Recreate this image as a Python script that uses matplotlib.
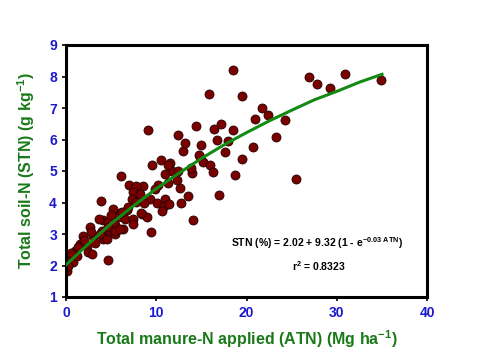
import matplotlib
matplotlib.use("Agg")
import matplotlib.pyplot as plt

plt.rcParams['font.family'] = ['Liberation Sans', 'DejaVu Sans']
plt.rcParams['font.weight'] = 'bold'
plt.rcParams['mathtext.fontset'] = 'custom'
plt.rcParams['mathtext.rm'] = 'Liberation Sans:bold'
plt.rcParams['mathtext.bf'] = 'Liberation Sans:bold'
plt.rcParams['mathtext.default'] = 'bf'

# Total manure-N applied (Mg/ha) and total soil N (g/kg)
atn = [34.9, 30.9, 29.2, 27.8, 26.9, 24.3, 25.5,
       18.5, 15.8, 19.5, 21.7, 22.4, 20.9, 23.3,
       16.4, 17.2, 18.5, 16.7, 17.9, 15.0, 20.7,
       19.5, 14.8, 15.2, 15.9, 16.3, 18.7,
       9.05, 12.4, 14.4, 13.0, 14.7, 10.5, 9.5,
       11.5, 11.7, 11.0, 14.0, 12.4, 12.3, 12.6,
       13.5, 10.2, 9.9, 11.3, 8.5, 8.2, 9.3,
       8.6, 10.1, 11.0, 10.8, 11.4, 12.7, 10.6,
       8.4, 9.0, 16.9, 14.1, 9.4,
       6.05, 7.0, 7.8, 11.3, 7.45, 8.2, 7.3,
       7.75, 3.9, 6.8, 6.0, 8.3, 5.76, 6.5,
       7.45, 7.45, 4.1, 4.7, 5.4, 6.3, 3.95,
       4.87, 5.4, 4.1, 6.9, 6.2, 3.6, 2.66,
       4.7, 5.4, 6.0, 1.9, 3.0, 3.76, 4.5,
       1.55, 2.3, 2.47, 2.85, 1.0, 1.36, 0.63,
       0.08, 0.0, 0.08, 0.8, 4.7, 0.2,
       1.2, 2.0, 3.2, 2.8, 0.5, 5.2, 5.0, 13.2, 17.6, 13.8]
stn = [7.88, 8.07, 7.63, 7.77, 8.0, 6.63, 4.75,
       8.21, 7.46, 7.38, 7.01, 6.77, 6.66, 6.09,
       6.34, 6.50, 6.29, 6.0, 5.96, 5.82, 5.77,
       5.39, 5.46, 5.29, 5.20, 4.97, 4.88,
       6.30, 6.13, 6.42, 5.64, 5.5, 5.36, 5.18,
       5.25, 5.01, 4.9, 4.93, 5.01, 4.71, 4.45,
       4.21, 4.55, 4.42, 4.61, 4.53, 4.13, 4.10,
       3.97, 4.0, 4.1, 3.88, 3.94, 4.0, 3.72,
       3.65, 3.55, 4.25, 3.46, 3.06,
       4.85, 4.57, 4.53, 5.19, 4.34, 4.28, 4.10,
       4.02, 4.04, 3.77, 3.67, 3.67, 3.54, 3.49,
       3.49, 3.33, 3.45, 3.38, 3.27, 3.17, 3.11,
       3.06, 3.01, 2.85, 3.86, 3.70, 3.49, 3.22,
       3.22, 3.11, 3.17, 2.95, 2.95, 3.0, 2.85,
       2.69, 2.63, 2.42, 2.37, 2.47, 2.58, 2.31,
       2.15, 1.94, 1.83, 2.1, 2.17, 1.99,
       2.3, 2.8, 2.7, 3.05, 2.4, 3.8, 3.6, 5.9, 5.6, 5.1]

# fitted curve
fit_x = [0, 2.5, 5, 7.5, 10, 12.5, 15, 17.5, 20, 22.5, 25, 27.5, 30, 32.5, 35]
fit_y = [2.02, 2.69, 3.33, 3.90, 4.44, 4.93, 5.40, 5.83, 6.22, 6.59,
         6.93, 7.26, 7.53, 7.82, 8.07]

fig = plt.figure(figsize=(4.8, 3.6), dpi=100)
ax = fig.add_axes([0.1375, 0.175, 0.7525, 0.70])

ax.scatter(atn, stn, s=42, color='#7a0000', edgecolors='#220000',
           linewidths=0.6, zorder=2)
ax.plot(fit_x, fit_y, color='#138a13', linewidth=2.2, zorder=3)

ax.set_xlim(0, 40)
ax.set_ylim(1, 9)
ax.set_xticks([0, 10, 20, 30, 40])
ax.set_yticks(range(1, 10))
ax.tick_params(colors='black', labelcolor='#1a1acc', labelsize=10,
               direction='out', length=3, width=1.2)
for s in ax.spines.values():
    s.set_linewidth(2.2)

ax.set_xlabel(r'Total manure-N applied (ATN) (Mg ha$^{-1}$)',
              color='#1a7a1a', fontsize=11.5, fontweight='bold', labelpad=6)
ax.set_ylabel(r'Total soil-N (STN) (g kg$^{-1}$)',
              color='#1a7a1a', fontsize=11.5, fontweight='bold', labelpad=9)

ax.text(27.8, 2.72, r'STN (%) = 2.02 + 9.32 (1 - e$^{-0.03\ ATN}$)',
        fontsize=7.5, fontweight='bold', ha='center', va='center')
ax.text(28.0, 1.98, r'r$^{2}$ = 0.8323',
        fontsize=7.5, fontweight='bold', ha='center', va='center')

fig.savefig('out.png', dpi=100)
